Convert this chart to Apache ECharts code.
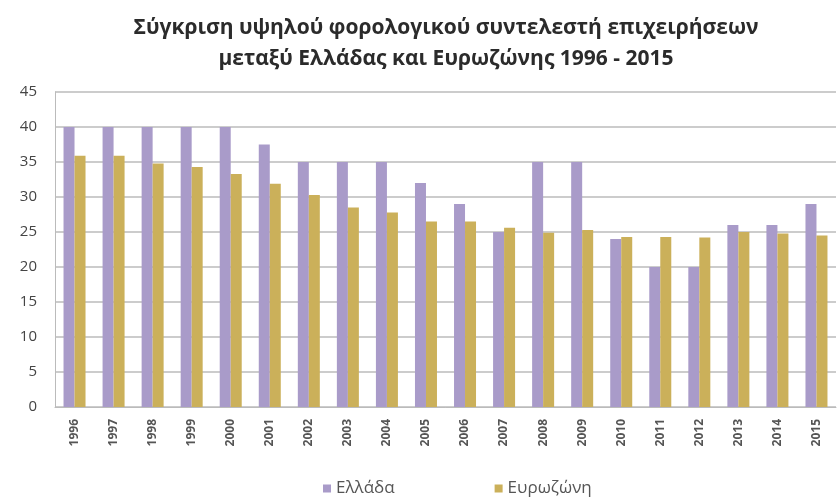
<!DOCTYPE html>
<html><head><meta charset="utf-8">
<script src="https://cdn.jsdelivr.net/npm/echarts@6/dist/echarts.min.js"></script>
<style>html,body{margin:0;padding:0;background:#fff}#c{width:840px;height:502px}</style>
</head><body><div id="c"></div>
<script>
const years = ['1996','1997','1998','1999','2000','2001','2002','2003','2004','2005','2006','2007','2008','2009','2010','2011','2012','2013','2014','2015'];
const greece = [40,40,40,40,40,37.5,35,35,35,32,29,25,35,35,24,20,20,26,26,29];
const eurozone = [35.9,35.9,34.8,34.3,33.3,31.9,30.3,28.5,27.8,26.5,26.5,25.6,24.9,25.3,24.3,24.3,24.2,25,24.8,24.5];
const yTicks = [0,5,10,15,20,25,30,35,40,45];
const titleText = 'Σύγκριση υψηλού φορολογικού συντελεστή επιχειρήσεων\nμεταξύ Ελλάδας και Ευρωζώνης 1996 - 2015';
const seriesNames = ['Ελλάδα','Ευρωζώνη'];

const chart = echarts.init(document.getElementById('c'), null, {renderer:'canvas'});
chart.setOption({
  animation:false,
  color:['#A99BC9','#CBB05A'],
  title:{text:titleText,left:441,textAlign:'center',top:8,
    textStyle:{fontFamily:'Open Sans',fontSize:21,fontWeight:'bold',color:'#2b2b2b',lineHeight:31}},
  legend:{data:seriesNames,top:475,left:318,itemWidth:8,itemHeight:8,itemGap:100,icon:'rect',
    textStyle:{fontFamily:'Open Sans',fontSize:17,color:'#555'}},
  grid:{left:55,right:4,top:92,bottom:95,containLabel:false},
  xAxis:{type:'category',data:years,
    axisLine:{lineStyle:{color:'#bbb'}},axisTick:{show:false},
    axisLabel:{rotate:90,fontFamily:'Open Sans',fontSize:12,fontWeight:'bold',color:'#555',margin:12}},
  yAxis:{type:'value',min:0,max:45,interval:5,
    axisLine:{show:true,lineStyle:{color:'#bbb'}},axisTick:{show:false},
    splitLine:{lineStyle:{color:'#bbb',width:1.5}},
    axisLabel:{fontFamily:'Open Sans',fontSize:15,color:'#444',margin:18,
      formatter:v=>yTicks.includes(v)?String(v):''}},
  series:[
    {name:seriesNames[0],type:'bar',data:greece,barWidth:11,barGap:'0%'},
    {name:seriesNames[1],type:'bar',data:eurozone,barWidth:11,barGap:'0%'}
  ]
});
</script></body></html>
